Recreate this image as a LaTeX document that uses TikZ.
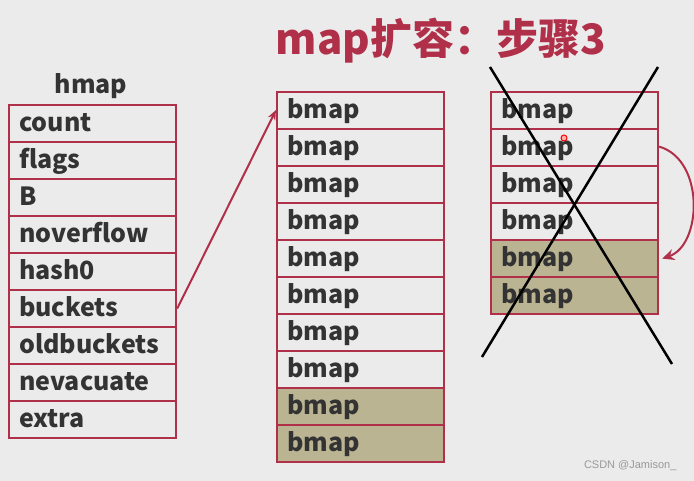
\documentclass[tikz,border=0pt]{standalone}
\usepackage{fontspec}
\setmainfont{Noto Sans CJK SC}
\newfontfamily\wm{Liberation Sans}
\usetikzlibrary{arrows.meta}
\definecolor{bg}{HTML}{EBEBEB}
\definecolor{bred}{HTML}{B0304A}
\definecolor{khaki}{HTML}{BBB493}
\definecolor{txt}{HTML}{333333}
\tikzset{
  cell/.style={draw=bred, line width=2.2pt, anchor=north west, minimum width=167pt,
    minimum height=37pt, text width=147pt, inner xsep=10pt, inner ysep=0pt, align=left,
    text height=21pt, text depth=5pt,
    font=\bfseries\fontsize{25}{25}\selectfont, text=txt},
  oldcell/.style={cell, fill=khaki},
  redarrow/.style={draw=bred, line width=2pt},
  crossline/.style={draw=black, line width=2.5pt}
}
\begin{document}
\begin{tikzpicture}[x=1pt,y=-1pt]
\fill[bg] (0,0) rectangle (694,481);
\useasboundingbox (0,0) rectangle (694,481);
\node[font=\bfseries\fontsize{42}{42}\selectfont, text=bred] (title) at (441,41) {map扩容：步骤3};
\node[font=\bfseries\fontsize{25}{25}\selectfont, text=txt] (hlabel) at (91,86) {hmap};
% hmap
\foreach \t [count=\i] in {count,flags,B,noverflow,hash0,buckets,oldbuckets,nevacuate,extra}{
  \node[cell] (h\i) at (8,{104+37*(\i-1)}) {\t};
}
% new buckets
\foreach \i in {1,...,8}{
  \node[cell] (m\i) at (276,{91+37*(\i-1)}) {bmap};
}
\foreach \i in {9,10}{
  \node[oldcell] (m\i) at (276,{91+37*(\i-1)}) {bmap};
}
% old buckets
\foreach \i in {1,...,4}{
  \node[cell] (r\i) at (490,{91+37*(\i-1)}) {bmap};
}
\foreach \i in {5,6}{
  \node[oldcell] (r\i) at (490,{91+37*(\i-1)}) {bmap};
}
% pointer arrow
\coordinate (tipm) at ([yshift=-19pt]m1.north west);
\draw[redarrow, -{Stealth[length=10pt,width=8pt]}] (h6.east) -- (tipm);
% curved arrow
\draw[redarrow, -{Stealth[length=12pt,width=11pt]}] ([yshift=1pt]r2.east) .. controls (705,160) and (702,245) .. ([xshift=3pt]r5.east);
% cross
\coordinate (c1) at (490,67);
\coordinate (c2) at (672,364);
\coordinate (c3) at (658,67);
\coordinate (c4) at (482,357);
\draw[crossline] (c1) -- (c2);
\draw[crossline] (c3) -- (c4);
% pointer dot
\node[draw=red, fill=red!30, circle, line width=1pt, inner sep=0pt, minimum size=6pt] (dot) at (564,138) {};
% watermark
\node[font=\wm\fontsize{11}{11}\selectfont, text=gray!80, anchor=east] (wmk) at (680,466) {CSDN @Jamison\_};
\end{tikzpicture}
\end{document}
